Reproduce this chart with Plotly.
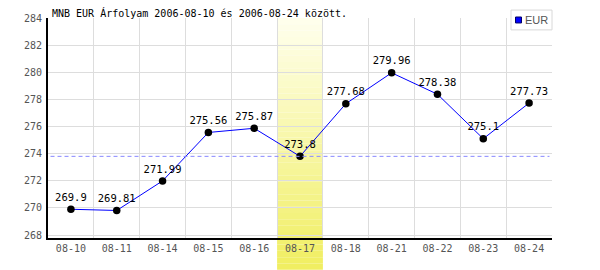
import plotly.graph_objects as go

categories = ["08-10", "08-11", "08-14", "08-15", "08-16", "08-17",
              "08-18", "08-21", "08-22", "08-23", "08-24"]
eur_values = [269.9, 269.81, 271.99, 275.56, 275.87, 273.8,
              277.68, 279.96, 278.38, 275.1, 277.73]
value_labels = ["269.9", "269.81", "271.99", "275.56", "275.87", "273.8",
                "277.68", "279.96", "278.38", "275.1", "277.73"]
highlight_day = "08-17"
y_ticks = [268, 270, 272, 274, 276, 278, 280, 282, 284]
title_text = "MNB EUR Árfolyam 2006-08-10 és 2006-08-24 között."
series_name = "EUR"

hi_idx = categories.index(highlight_day)
hi_value = eur_values[hi_idx]

W, H = 600, 270
ML, MR, MT, MB = 48, 48, 16, 32
plot_h = H - MT - MB
mono = "DejaVu Sans Mono"

fig = go.Figure()
fig.add_trace(go.Scatter(
    x=categories, y=eur_values, mode="lines+markers+text",
    text=value_labels, textposition="top center",
    textfont=dict(family=mono, size=10.5, color="#000000"),
    line=dict(color="#0000ff", width=1),
    marker=dict(color="#000000", size=7.5),
    showlegend=False, cliponaxis=False, name=series_name,
))

# gradient highlight band for the selected day
shapes = []
n = 40
y_bottom = -(H - (H - MB)) / plot_h  # bottom of image in paper coords
top_c = (255, 255, 238)
bot_c = (240, 238, 96)
for i in range(n):
    f0 = i / n
    f1 = (i + 1) / n
    t = (i + 0.5) / n
    c = tuple(round(top_c[k] + (bot_c[k] - top_c[k]) * t) for k in range(3))
    shapes.append(dict(
        type="rect", xref="x", yref="paper",
        x0=hi_idx - 0.5, x1=hi_idx + 0.5,
        y0=1 - f1 * (1 - y_bottom), y1=1 - f0 * (1 - y_bottom),
        fillcolor="rgb(%d,%d,%d)" % c, line=dict(width=0), layer="between",
    ))
# reference line at the highlighted day's value
shapes.append(dict(type="line", xref="paper", yref="y", x0=0.005, x1=0.995,
                   y0=hi_value, y1=hi_value,
                   line=dict(color="#8888ff", width=1, dash="4px,3px"), layer="above"))
# legend box
lx0 = (511 - ML) / (W - ML - MR)
ly1 = 1 + (MT - 8) / plot_h
ly0 = 1 - (28 - MT) / plot_h
shapes.append(dict(type="rect", xref="paper", yref="paper", x0=lx0, x1=1.0,
                   y0=ly0, y1=ly1, fillcolor="#ffffff",
                   line=dict(color="#d8d8d8", width=1), layer="above"))
sx0 = (515.5 - ML) / (W - ML - MR)
sx1 = (521.5 - ML) / (W - ML - MR)
sy1 = 1 - (15 - MT) / plot_h
sy0 = 1 - (21 - MT) / plot_h
shapes.append(dict(type="rect", xref="paper", yref="paper", x0=sx0, x1=sx1,
                   y0=sy0, y1=sy1, fillcolor="#0000ff",
                   line=dict(color="#000066", width=1), layer="above"))

annotations = [
    dict(text=series_name, xref="paper", yref="paper",
         x=(523 - ML) / (W - ML - MR), y=1 - (18 - MT) / plot_h,
         xanchor="left", yanchor="middle", showarrow=False,
         font=dict(family="Liberation Sans", size=11, color="#555555")),
]

fig.update_layout(
    width=W, height=H,
    margin=dict(l=ML, r=MR, t=MT, b=MB),
    paper_bgcolor="#ffffff", plot_bgcolor="#ffffff",
    title=dict(text=title_text, xref="container", yref="container",
               x=52 / W, y=1 - 13 / H, xanchor="left", yanchor="middle",
               font=dict(family=mono, size=10, color="#000000")),
    shapes=shapes, annotations=annotations,
    xaxis=dict(type="category", tickson="boundaries", showgrid=True,
               gridcolor="#dddddd", gridwidth=1,
               showline=True, linecolor="#000000", linewidth=2,
               ticks="", tickfont=dict(family=mono, size=10, color="#555555"),
               range=[-0.5, len(categories) - 0.5], fixedrange=True),
    yaxis=dict(range=[267.78, 284], tickvals=y_ticks,
               showgrid=True, gridcolor="#dddddd", gridwidth=1,
               showline=True, linecolor="#000000", linewidth=2,
               zeroline=False, ticks="", ticklabelstandoff=2,
               tickfont=dict(family=mono, size=10, color="#555555")),
    showlegend=False,
)

fig.write_html("out.html")
